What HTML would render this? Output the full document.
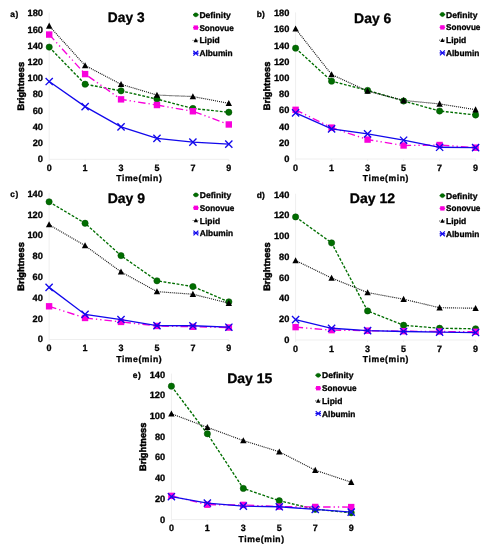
<!DOCTYPE html>
<html><head><meta charset="utf-8"><title>Brightness over time</title>
<style>
html,body{margin:0;padding:0;background:#fff;}
body{width:491px;height:550px;overflow:hidden;}
svg{display:block;will-change:transform;}
text{font-family:"Liberation Sans", sans-serif;font-weight:bold;fill:#000;stroke:#000;stroke-width:0.3px;stroke-linejoin:round;text-rendering:geometricPrecision;}
</style></head>
<body>
<svg width="491" height="550" viewBox="0 0 491 550">
<rect width="491" height="550" fill="#fff"/>
<path d="M49.20 12.50V159.30H228.80" stroke="#efefef" stroke-width="1" fill="none"/>
<path d="M49.20 159.30v2M85.12 159.30v2M121.04 159.30v2M156.96 159.30v2M192.88 159.30v2M228.80 159.30v2" stroke="#efefef" stroke-width="1"/>
<text x="43.00" y="162.20" font-size="9.2" text-anchor="end" textLength="5.2" lengthAdjust="spacingAndGlyphs">0</text>
<text x="43.00" y="146.00" font-size="9.2" text-anchor="end" textLength="10.3" lengthAdjust="spacingAndGlyphs">20</text>
<text x="43.00" y="129.80" font-size="9.2" text-anchor="end" textLength="10.3" lengthAdjust="spacingAndGlyphs">40</text>
<text x="43.00" y="113.60" font-size="9.2" text-anchor="end" textLength="10.3" lengthAdjust="spacingAndGlyphs">60</text>
<text x="43.00" y="97.40" font-size="9.2" text-anchor="end" textLength="10.3" lengthAdjust="spacingAndGlyphs">80</text>
<text x="43.00" y="81.20" font-size="9.2" text-anchor="end" textLength="15.5" lengthAdjust="spacingAndGlyphs">100</text>
<text x="43.00" y="65.00" font-size="9.2" text-anchor="end" textLength="15.5" lengthAdjust="spacingAndGlyphs">120</text>
<text x="43.00" y="48.80" font-size="9.2" text-anchor="end" textLength="15.5" lengthAdjust="spacingAndGlyphs">140</text>
<text x="43.00" y="32.60" font-size="9.2" text-anchor="end" textLength="15.5" lengthAdjust="spacingAndGlyphs">160</text>
<text x="43.00" y="16.40" font-size="9.2" text-anchor="end" textLength="15.5" lengthAdjust="spacingAndGlyphs">180</text>
<text x="49.20" y="170.80" font-size="9.2" text-anchor="middle" textLength="5.0" lengthAdjust="spacingAndGlyphs">0</text>
<text x="85.12" y="170.80" font-size="9.2" text-anchor="middle" textLength="5.0" lengthAdjust="spacingAndGlyphs">1</text>
<text x="121.04" y="170.80" font-size="9.2" text-anchor="middle" textLength="5.0" lengthAdjust="spacingAndGlyphs">3</text>
<text x="156.96" y="170.80" font-size="9.2" text-anchor="middle" textLength="5.0" lengthAdjust="spacingAndGlyphs">5</text>
<text x="192.88" y="170.80" font-size="9.2" text-anchor="middle" textLength="5.0" lengthAdjust="spacingAndGlyphs">7</text>
<text x="228.80" y="170.80" font-size="9.2" text-anchor="middle" textLength="5.0" lengthAdjust="spacingAndGlyphs">9</text>
<text x="139.00" y="181.30" font-size="8.6" text-anchor="middle" textLength="45.5" lengthAdjust="spacing">Time(min)</text>
<text transform="translate(23.50 86.20) rotate(-90)" font-size="9.3" style="stroke-width:0.5px" text-anchor="middle" textLength="48.5" lengthAdjust="spacingAndGlyphs">Brightness</text>
<text x="10.30" y="16.90" font-size="8.4" textLength="8.0" lengthAdjust="spacing">a)</text>
<text x="126.20" y="22.00" font-size="13.8" text-anchor="middle" textLength="36.7" lengthAdjust="spacingAndGlyphs">Day 3</text>
<polyline points="49.20,47.12 85.12,84.21 121.04,90.86 156.96,99.12 192.88,108.51 228.80,112.24" fill="none" stroke="#006e00" stroke-width="1.35" stroke-dasharray="2.8 1.6"/>
<circle cx="49.20" cy="47.12" r="3.15" fill="#006e00" stroke="#004a00" stroke-width="0.50"/>
<circle cx="85.12" cy="84.21" r="3.15" fill="#006e00" stroke="#004a00" stroke-width="0.50"/>
<circle cx="121.04" cy="90.86" r="3.15" fill="#006e00" stroke="#004a00" stroke-width="0.50"/>
<circle cx="156.96" cy="99.12" r="3.15" fill="#006e00" stroke="#004a00" stroke-width="0.50"/>
<circle cx="192.88" cy="108.51" r="3.15" fill="#006e00" stroke="#004a00" stroke-width="0.50"/>
<circle cx="228.80" cy="112.24" r="3.15" fill="#006e00" stroke="#004a00" stroke-width="0.50"/>
<polyline points="49.20,34.56 85.12,74.09 121.04,99.36 156.96,105.03 192.88,111.27 228.80,124.47" fill="none" stroke="#f800dc" stroke-width="1.35" stroke-dasharray="7.5 3 1.3 3 1.3 3"/>
<rect x="46.00" y="31.36" width="6.40" height="6.40" fill="#f800dc"/>
<rect x="81.92" y="70.89" width="6.40" height="6.40" fill="#f800dc"/>
<rect x="117.84" y="96.16" width="6.40" height="6.40" fill="#f800dc"/>
<rect x="153.76" y="101.83" width="6.40" height="6.40" fill="#f800dc"/>
<rect x="189.68" y="108.07" width="6.40" height="6.40" fill="#f800dc"/>
<rect x="225.60" y="121.27" width="6.40" height="6.40" fill="#f800dc"/>
<polyline points="49.20,25.97 85.12,65.50 121.04,84.29 156.96,95.07 192.88,96.53 228.80,103.33" fill="none" stroke="#111" stroke-width="1.15" stroke-dasharray="1 1"/>
<path d="M49.20 22.62L52.40 28.72L46.00 28.72Z" fill="#000"/>
<path d="M85.12 62.15L88.32 68.25L81.92 68.25Z" fill="#000"/>
<path d="M121.04 80.94L124.24 87.04L117.84 87.04Z" fill="#000"/>
<path d="M156.96 91.71L160.16 97.81L153.76 97.81Z" fill="#000"/>
<path d="M192.88 93.17L196.08 99.27L189.68 99.27Z" fill="#000"/>
<path d="M228.80 99.97L232.00 106.07L225.60 106.07Z" fill="#000"/>
<polyline points="49.20,81.54 85.12,106.65 121.04,126.90 156.96,138.40 192.88,142.13 228.80,144.07" fill="none" stroke="#1208ec" stroke-width="1.3"/>
<path d="M45.60 77.94L52.80 85.14M52.80 77.94L45.60 85.14" stroke="#1208ec" stroke-width="1.35" fill="none"/>
<path d="M81.52 103.05L88.72 110.25M88.72 103.05L81.52 110.25" stroke="#1208ec" stroke-width="1.35" fill="none"/>
<path d="M117.44 123.30L124.64 130.50M124.64 123.30L117.44 130.50" stroke="#1208ec" stroke-width="1.35" fill="none"/>
<path d="M153.36 134.80L160.56 142.00M160.56 134.80L153.36 142.00" stroke="#1208ec" stroke-width="1.35" fill="none"/>
<path d="M189.28 138.53L196.48 145.73M196.48 138.53L189.28 145.73" stroke="#1208ec" stroke-width="1.35" fill="none"/>
<path d="M225.20 140.47L232.40 147.67M232.40 140.47L225.20 147.67" stroke="#1208ec" stroke-width="1.35" fill="none"/>
<path d="M193.00 14.80H198.60" stroke="#006e00" stroke-width="1.35"/>
<circle cx="195.80" cy="14.80" r="2.14" fill="#006e00" stroke="#004a00" stroke-width="0.34"/>
<text x="199.40" y="17.80" font-size="8.4" textLength="31.4" lengthAdjust="spacingAndGlyphs">Definity</text>
<path d="M193.00 27.60H198.60" stroke="#f800dc" stroke-width="1.35"/>
<rect x="193.62" y="25.42" width="4.35" height="4.35" fill="#f800dc"/>
<text x="199.40" y="30.60" font-size="8.4" textLength="34.4" lengthAdjust="spacingAndGlyphs">Sonovue</text>
<path d="M192.60 40.40H198.40" stroke="#222" stroke-width="0.9" stroke-dasharray="0.8 0.8"/>
<path d="M195.80 38.12L197.98 42.27L193.62 42.27Z" fill="#000"/>
<text x="199.40" y="43.40" font-size="8.4" textLength="20.3" lengthAdjust="spacingAndGlyphs">Lipid</text>
<path d="M193.00 53.20H198.60" stroke="#1208ec" stroke-width="1.3"/>
<path d="M193.35 50.75L198.25 55.65M198.25 50.75L193.35 55.65" stroke="#1208ec" stroke-width="1.20" fill="none"/>
<text x="199.40" y="56.20" font-size="8.4" textLength="33.3" lengthAdjust="spacingAndGlyphs">Albumin</text>
<path d="M295.60 12.40V159.00H475.60" stroke="#efefef" stroke-width="1" fill="none"/>
<path d="M295.60 159.00v2M331.60 159.00v2M367.60 159.00v2M403.60 159.00v2M439.60 159.00v2M475.60 159.00v2" stroke="#efefef" stroke-width="1"/>
<text x="289.40" y="161.90" font-size="9.2" text-anchor="end" textLength="5.2" lengthAdjust="spacingAndGlyphs">0</text>
<text x="289.40" y="145.72" font-size="9.2" text-anchor="end" textLength="10.3" lengthAdjust="spacingAndGlyphs">20</text>
<text x="289.40" y="129.54" font-size="9.2" text-anchor="end" textLength="10.3" lengthAdjust="spacingAndGlyphs">40</text>
<text x="289.40" y="113.37" font-size="9.2" text-anchor="end" textLength="10.3" lengthAdjust="spacingAndGlyphs">60</text>
<text x="289.40" y="97.19" font-size="9.2" text-anchor="end" textLength="10.3" lengthAdjust="spacingAndGlyphs">80</text>
<text x="289.40" y="81.01" font-size="9.2" text-anchor="end" textLength="15.5" lengthAdjust="spacingAndGlyphs">100</text>
<text x="289.40" y="64.83" font-size="9.2" text-anchor="end" textLength="15.5" lengthAdjust="spacingAndGlyphs">120</text>
<text x="289.40" y="48.66" font-size="9.2" text-anchor="end" textLength="15.5" lengthAdjust="spacingAndGlyphs">140</text>
<text x="289.40" y="32.48" font-size="9.2" text-anchor="end" textLength="15.5" lengthAdjust="spacingAndGlyphs">160</text>
<text x="289.40" y="16.30" font-size="9.2" text-anchor="end" textLength="15.5" lengthAdjust="spacingAndGlyphs">180</text>
<text x="295.60" y="170.50" font-size="9.2" text-anchor="middle" textLength="5.0" lengthAdjust="spacingAndGlyphs">0</text>
<text x="331.60" y="170.50" font-size="9.2" text-anchor="middle" textLength="5.0" lengthAdjust="spacingAndGlyphs">1</text>
<text x="367.60" y="170.50" font-size="9.2" text-anchor="middle" textLength="5.0" lengthAdjust="spacingAndGlyphs">3</text>
<text x="403.60" y="170.50" font-size="9.2" text-anchor="middle" textLength="5.0" lengthAdjust="spacingAndGlyphs">5</text>
<text x="439.60" y="170.50" font-size="9.2" text-anchor="middle" textLength="5.0" lengthAdjust="spacingAndGlyphs">7</text>
<text x="475.60" y="170.50" font-size="9.2" text-anchor="middle" textLength="5.0" lengthAdjust="spacingAndGlyphs">9</text>
<text x="385.60" y="181.00" font-size="8.6" text-anchor="middle" textLength="45.5" lengthAdjust="spacing">Time(min)</text>
<text transform="translate(270.00 85.90) rotate(-90)" font-size="9.3" style="stroke-width:0.5px" text-anchor="middle" textLength="48.5" lengthAdjust="spacingAndGlyphs">Brightness</text>
<text x="256.80" y="16.80" font-size="8.4" textLength="8.0" lengthAdjust="spacing">b)</text>
<text x="372.70" y="22.90" font-size="13.8" text-anchor="middle" textLength="37.2" lengthAdjust="spacingAndGlyphs">Day 6</text>
<polyline points="295.60,48.18 331.60,81.18 367.60,90.41 403.60,101.00 439.60,111.03 475.60,115.00" fill="none" stroke="#006e00" stroke-width="1.35" stroke-dasharray="2.8 1.6"/>
<circle cx="295.60" cy="48.18" r="3.15" fill="#006e00" stroke="#004a00" stroke-width="0.50"/>
<circle cx="331.60" cy="81.18" r="3.15" fill="#006e00" stroke="#004a00" stroke-width="0.50"/>
<circle cx="367.60" cy="90.41" r="3.15" fill="#006e00" stroke="#004a00" stroke-width="0.50"/>
<circle cx="403.60" cy="101.00" r="3.15" fill="#006e00" stroke="#004a00" stroke-width="0.50"/>
<circle cx="439.60" cy="111.03" r="3.15" fill="#006e00" stroke="#004a00" stroke-width="0.50"/>
<circle cx="475.60" cy="115.00" r="3.15" fill="#006e00" stroke="#004a00" stroke-width="0.50"/>
<polyline points="295.60,109.82 331.60,127.62 367.60,139.59 403.60,145.49 439.60,145.01 475.60,147.68" fill="none" stroke="#f800dc" stroke-width="1.35" stroke-dasharray="7.5 3 1.3 3 1.3 3"/>
<rect x="292.40" y="106.62" width="6.40" height="6.40" fill="#f800dc"/>
<rect x="328.40" y="124.42" width="6.40" height="6.40" fill="#f800dc"/>
<rect x="364.40" y="136.39" width="6.40" height="6.40" fill="#f800dc"/>
<rect x="400.40" y="142.29" width="6.40" height="6.40" fill="#f800dc"/>
<rect x="436.40" y="141.81" width="6.40" height="6.40" fill="#f800dc"/>
<rect x="472.40" y="144.48" width="6.40" height="6.40" fill="#f800dc"/>
<polyline points="295.60,28.77 331.60,74.55 367.60,91.05 403.60,100.44 439.60,103.91 475.60,109.66" fill="none" stroke="#111" stroke-width="1.15" stroke-dasharray="1 1"/>
<path d="M295.60 25.41L298.80 31.51L292.40 31.51Z" fill="#000"/>
<path d="M331.60 71.20L334.80 77.30L328.40 77.30Z" fill="#000"/>
<path d="M367.60 87.70L370.80 93.80L364.40 93.80Z" fill="#000"/>
<path d="M403.60 97.08L406.80 103.18L400.40 103.18Z" fill="#000"/>
<path d="M439.60 100.56L442.80 106.66L436.40 106.66Z" fill="#000"/>
<path d="M475.60 106.30L478.80 112.40L472.40 112.40Z" fill="#000"/>
<polyline points="295.60,112.89 331.60,128.91 367.60,133.92 403.60,140.23 439.60,147.27 475.60,147.68" fill="none" stroke="#1208ec" stroke-width="1.3"/>
<path d="M292.00 109.29L299.20 116.49M299.20 109.29L292.00 116.49" stroke="#1208ec" stroke-width="1.35" fill="none"/>
<path d="M328.00 125.31L335.20 132.51M335.20 125.31L328.00 132.51" stroke="#1208ec" stroke-width="1.35" fill="none"/>
<path d="M364.00 130.32L371.20 137.52M371.20 130.32L364.00 137.52" stroke="#1208ec" stroke-width="1.35" fill="none"/>
<path d="M400.00 136.63L407.20 143.83M407.20 136.63L400.00 143.83" stroke="#1208ec" stroke-width="1.35" fill="none"/>
<path d="M436.00 143.67L443.20 150.87M443.20 143.67L436.00 150.87" stroke="#1208ec" stroke-width="1.35" fill="none"/>
<path d="M472.00 144.08L479.20 151.28M479.20 144.08L472.00 151.28" stroke="#1208ec" stroke-width="1.35" fill="none"/>
<path d="M439.60 14.50H445.20" stroke="#006e00" stroke-width="1.35"/>
<circle cx="442.40" cy="14.50" r="2.14" fill="#006e00" stroke="#004a00" stroke-width="0.34"/>
<text x="446.00" y="17.50" font-size="8.4" textLength="31.4" lengthAdjust="spacingAndGlyphs">Definity</text>
<path d="M439.60 27.40H445.20" stroke="#f800dc" stroke-width="1.35"/>
<rect x="440.22" y="25.22" width="4.35" height="4.35" fill="#f800dc"/>
<text x="446.00" y="30.40" font-size="8.4" textLength="34.4" lengthAdjust="spacingAndGlyphs">Sonovue</text>
<path d="M439.20 40.20H445.00" stroke="#222" stroke-width="0.9" stroke-dasharray="0.8 0.8"/>
<path d="M442.40 37.92L444.58 42.07L440.22 42.07Z" fill="#000"/>
<text x="446.00" y="43.20" font-size="8.4" textLength="20.3" lengthAdjust="spacingAndGlyphs">Lipid</text>
<path d="M439.60 52.90H445.20" stroke="#1208ec" stroke-width="1.3"/>
<path d="M439.95 50.45L444.85 55.35M444.85 50.45L439.95 55.35" stroke="#1208ec" stroke-width="1.20" fill="none"/>
<text x="446.00" y="55.90" font-size="8.4" textLength="33.3" lengthAdjust="spacingAndGlyphs">Albumin</text>
<path d="M49.10 192.80V339.50H228.85" stroke="#efefef" stroke-width="1" fill="none"/>
<path d="M49.10 339.50v2M85.05 339.50v2M121.00 339.50v2M156.95 339.50v2M192.90 339.50v2M228.85 339.50v2" stroke="#efefef" stroke-width="1"/>
<text x="42.90" y="342.40" font-size="9.2" text-anchor="end" textLength="5.2" lengthAdjust="spacingAndGlyphs">0</text>
<text x="42.90" y="321.59" font-size="9.2" text-anchor="end" textLength="10.3" lengthAdjust="spacingAndGlyphs">20</text>
<text x="42.90" y="300.77" font-size="9.2" text-anchor="end" textLength="10.3" lengthAdjust="spacingAndGlyphs">40</text>
<text x="42.90" y="279.96" font-size="9.2" text-anchor="end" textLength="10.3" lengthAdjust="spacingAndGlyphs">60</text>
<text x="42.90" y="259.14" font-size="9.2" text-anchor="end" textLength="10.3" lengthAdjust="spacingAndGlyphs">80</text>
<text x="42.90" y="238.33" font-size="9.2" text-anchor="end" textLength="15.5" lengthAdjust="spacingAndGlyphs">100</text>
<text x="42.90" y="217.51" font-size="9.2" text-anchor="end" textLength="15.5" lengthAdjust="spacingAndGlyphs">120</text>
<text x="42.90" y="196.70" font-size="9.2" text-anchor="end" textLength="15.5" lengthAdjust="spacingAndGlyphs">140</text>
<text x="49.10" y="351.00" font-size="9.2" text-anchor="middle" textLength="5.0" lengthAdjust="spacingAndGlyphs">0</text>
<text x="85.05" y="351.00" font-size="9.2" text-anchor="middle" textLength="5.0" lengthAdjust="spacingAndGlyphs">1</text>
<text x="121.00" y="351.00" font-size="9.2" text-anchor="middle" textLength="5.0" lengthAdjust="spacingAndGlyphs">3</text>
<text x="156.95" y="351.00" font-size="9.2" text-anchor="middle" textLength="5.0" lengthAdjust="spacingAndGlyphs">5</text>
<text x="192.90" y="351.00" font-size="9.2" text-anchor="middle" textLength="5.0" lengthAdjust="spacingAndGlyphs">7</text>
<text x="228.85" y="351.00" font-size="9.2" text-anchor="middle" textLength="5.0" lengthAdjust="spacingAndGlyphs">9</text>
<text x="138.97" y="361.50" font-size="8.6" text-anchor="middle" textLength="45.5" lengthAdjust="spacing">Time(min)</text>
<text transform="translate(23.50 266.40) rotate(-90)" font-size="9.3" style="stroke-width:0.5px" text-anchor="middle" textLength="48.5" lengthAdjust="spacingAndGlyphs">Brightness</text>
<text x="10.30" y="197.20" font-size="8.4" textLength="8.0" lengthAdjust="spacing">c)</text>
<text x="126.40" y="202.60" font-size="13.8" text-anchor="middle" textLength="37.3" lengthAdjust="spacingAndGlyphs">Day 9</text>
<polyline points="49.10,201.81 85.05,223.25 121.00,255.62 156.95,280.80 192.90,286.53 228.85,301.83" fill="none" stroke="#006e00" stroke-width="1.35" stroke-dasharray="2.8 1.6"/>
<circle cx="49.10" cy="201.81" r="3.15" fill="#006e00" stroke="#004a00" stroke-width="0.50"/>
<circle cx="85.05" cy="223.25" r="3.15" fill="#006e00" stroke="#004a00" stroke-width="0.50"/>
<circle cx="121.00" cy="255.62" r="3.15" fill="#006e00" stroke="#004a00" stroke-width="0.50"/>
<circle cx="156.95" cy="280.80" r="3.15" fill="#006e00" stroke="#004a00" stroke-width="0.50"/>
<circle cx="192.90" cy="286.53" r="3.15" fill="#006e00" stroke="#004a00" stroke-width="0.50"/>
<circle cx="228.85" cy="301.83" r="3.15" fill="#006e00" stroke="#004a00" stroke-width="0.50"/>
<polyline points="49.10,306.30 85.05,317.96 121.00,321.91 156.95,325.97 192.90,326.80 228.85,327.53" fill="none" stroke="#f800dc" stroke-width="1.35" stroke-dasharray="7.5 3 1.3 3 1.3 3"/>
<rect x="45.90" y="303.10" width="6.40" height="6.40" fill="#f800dc"/>
<rect x="81.85" y="314.76" width="6.40" height="6.40" fill="#f800dc"/>
<rect x="117.80" y="318.71" width="6.40" height="6.40" fill="#f800dc"/>
<rect x="153.75" y="322.77" width="6.40" height="6.40" fill="#f800dc"/>
<rect x="189.70" y="323.60" width="6.40" height="6.40" fill="#f800dc"/>
<rect x="225.65" y="324.33" width="6.40" height="6.40" fill="#f800dc"/>
<polyline points="49.10,224.61 85.05,245.63 121.00,271.85 156.95,291.63 192.90,294.23 228.85,303.18" fill="none" stroke="#111" stroke-width="1.15" stroke-dasharray="1 1"/>
<path d="M49.10 221.25L52.30 227.35L45.90 227.35Z" fill="#000"/>
<path d="M85.05 242.27L88.25 248.37L81.85 248.37Z" fill="#000"/>
<path d="M121.00 268.50L124.20 274.60L117.80 274.60Z" fill="#000"/>
<path d="M156.95 288.27L160.15 294.37L153.75 294.37Z" fill="#000"/>
<path d="M192.90 290.87L196.10 296.97L189.70 296.97Z" fill="#000"/>
<path d="M228.85 299.82L232.05 305.92L225.65 305.92Z" fill="#000"/>
<polyline points="49.10,287.36 85.05,314.42 121.00,319.52 156.95,325.55 192.90,325.76 228.85,327.22" fill="none" stroke="#1208ec" stroke-width="1.3"/>
<path d="M45.50 283.76L52.70 290.96M52.70 283.76L45.50 290.96" stroke="#1208ec" stroke-width="1.35" fill="none"/>
<path d="M81.45 310.82L88.65 318.02M88.65 310.82L81.45 318.02" stroke="#1208ec" stroke-width="1.35" fill="none"/>
<path d="M117.40 315.92L124.60 323.12M124.60 315.92L117.40 323.12" stroke="#1208ec" stroke-width="1.35" fill="none"/>
<path d="M153.35 321.95L160.55 329.15M160.55 321.95L153.35 329.15" stroke="#1208ec" stroke-width="1.35" fill="none"/>
<path d="M189.30 322.16L196.50 329.36M196.50 322.16L189.30 329.36" stroke="#1208ec" stroke-width="1.35" fill="none"/>
<path d="M225.25 323.62L232.45 330.82M232.45 323.62L225.25 330.82" stroke="#1208ec" stroke-width="1.35" fill="none"/>
<path d="M193.10 194.90H198.70" stroke="#006e00" stroke-width="1.35"/>
<circle cx="195.90" cy="194.90" r="2.14" fill="#006e00" stroke="#004a00" stroke-width="0.34"/>
<text x="199.80" y="197.90" font-size="8.4" textLength="31.4" lengthAdjust="spacingAndGlyphs">Definity</text>
<path d="M193.10 207.80H198.70" stroke="#f800dc" stroke-width="1.35"/>
<rect x="193.72" y="205.62" width="4.35" height="4.35" fill="#f800dc"/>
<text x="199.80" y="210.80" font-size="8.4" textLength="34.4" lengthAdjust="spacingAndGlyphs">Sonovue</text>
<path d="M192.70 220.50H198.50" stroke="#222" stroke-width="0.9" stroke-dasharray="0.8 0.8"/>
<path d="M195.90 218.22L198.08 222.37L193.72 222.37Z" fill="#000"/>
<text x="199.80" y="223.50" font-size="8.4" textLength="20.3" lengthAdjust="spacingAndGlyphs">Lipid</text>
<path d="M193.10 233.00H198.70" stroke="#1208ec" stroke-width="1.3"/>
<path d="M193.45 230.55L198.35 235.45M198.35 230.55L193.45 235.45" stroke="#1208ec" stroke-width="1.20" fill="none"/>
<text x="199.80" y="236.00" font-size="8.4" textLength="33.3" lengthAdjust="spacingAndGlyphs">Albumin</text>
<path d="M295.60 193.70V340.00H475.60" stroke="#efefef" stroke-width="1" fill="none"/>
<path d="M295.60 340.00v2M331.60 340.00v2M367.60 340.00v2M403.60 340.00v2M439.60 340.00v2M475.60 340.00v2" stroke="#efefef" stroke-width="1"/>
<text x="289.40" y="342.90" font-size="9.2" text-anchor="end" textLength="5.2" lengthAdjust="spacingAndGlyphs">0</text>
<text x="289.40" y="322.14" font-size="9.2" text-anchor="end" textLength="10.3" lengthAdjust="spacingAndGlyphs">20</text>
<text x="289.40" y="301.39" font-size="9.2" text-anchor="end" textLength="10.3" lengthAdjust="spacingAndGlyphs">40</text>
<text x="289.40" y="280.63" font-size="9.2" text-anchor="end" textLength="10.3" lengthAdjust="spacingAndGlyphs">60</text>
<text x="289.40" y="259.87" font-size="9.2" text-anchor="end" textLength="10.3" lengthAdjust="spacingAndGlyphs">80</text>
<text x="289.40" y="239.11" font-size="9.2" text-anchor="end" textLength="15.5" lengthAdjust="spacingAndGlyphs">100</text>
<text x="289.40" y="218.36" font-size="9.2" text-anchor="end" textLength="15.5" lengthAdjust="spacingAndGlyphs">120</text>
<text x="289.40" y="197.60" font-size="9.2" text-anchor="end" textLength="15.5" lengthAdjust="spacingAndGlyphs">140</text>
<text x="295.60" y="351.50" font-size="9.2" text-anchor="middle" textLength="5.0" lengthAdjust="spacingAndGlyphs">0</text>
<text x="331.60" y="351.50" font-size="9.2" text-anchor="middle" textLength="5.0" lengthAdjust="spacingAndGlyphs">1</text>
<text x="367.60" y="351.50" font-size="9.2" text-anchor="middle" textLength="5.0" lengthAdjust="spacingAndGlyphs">3</text>
<text x="403.60" y="351.50" font-size="9.2" text-anchor="middle" textLength="5.0" lengthAdjust="spacingAndGlyphs">5</text>
<text x="439.60" y="351.50" font-size="9.2" text-anchor="middle" textLength="5.0" lengthAdjust="spacingAndGlyphs">7</text>
<text x="475.60" y="351.50" font-size="9.2" text-anchor="middle" textLength="5.0" lengthAdjust="spacingAndGlyphs">9</text>
<text x="385.60" y="362.00" font-size="8.6" text-anchor="middle" textLength="45.5" lengthAdjust="spacing">Time(min)</text>
<text transform="translate(270.00 266.60) rotate(-90)" font-size="9.3" style="stroke-width:0.5px" text-anchor="middle" textLength="48.5" lengthAdjust="spacingAndGlyphs">Brightness</text>
<text x="256.80" y="198.10" font-size="8.4" textLength="8.0" lengthAdjust="spacing">d)</text>
<text x="372.40" y="203.00" font-size="13.8" text-anchor="middle" textLength="45.2" lengthAdjust="spacingAndGlyphs">Day 12</text>
<polyline points="295.60,216.91 331.60,242.86 367.60,310.94 403.60,325.26 439.60,328.27 475.60,328.79" fill="none" stroke="#006e00" stroke-width="1.35" stroke-dasharray="2.8 1.6"/>
<circle cx="295.60" cy="216.91" r="3.15" fill="#006e00" stroke="#004a00" stroke-width="0.50"/>
<circle cx="331.60" cy="242.86" r="3.15" fill="#006e00" stroke="#004a00" stroke-width="0.50"/>
<circle cx="367.60" cy="310.94" r="3.15" fill="#006e00" stroke="#004a00" stroke-width="0.50"/>
<circle cx="403.60" cy="325.26" r="3.15" fill="#006e00" stroke="#004a00" stroke-width="0.50"/>
<circle cx="439.60" cy="328.27" r="3.15" fill="#006e00" stroke="#004a00" stroke-width="0.50"/>
<circle cx="475.60" cy="328.79" r="3.15" fill="#006e00" stroke="#004a00" stroke-width="0.50"/>
<polyline points="295.60,327.13 331.60,330.14 367.60,330.66 403.60,331.18 439.60,331.49 475.60,331.80" fill="none" stroke="#f800dc" stroke-width="1.35" stroke-dasharray="7.5 3 1.3 3 1.3 3"/>
<rect x="292.40" y="323.93" width="6.40" height="6.40" fill="#f800dc"/>
<rect x="328.40" y="326.94" width="6.40" height="6.40" fill="#f800dc"/>
<rect x="364.40" y="327.46" width="6.40" height="6.40" fill="#f800dc"/>
<rect x="400.40" y="327.98" width="6.40" height="6.40" fill="#f800dc"/>
<rect x="436.40" y="328.29" width="6.40" height="6.40" fill="#f800dc"/>
<rect x="472.40" y="328.60" width="6.40" height="6.40" fill="#f800dc"/>
<polyline points="295.60,260.50 331.60,278.04 367.60,292.57 403.60,299.21 439.60,307.72 475.60,308.24" fill="none" stroke="#111" stroke-width="1.15" stroke-dasharray="1 1"/>
<path d="M295.60 257.15L298.80 263.25L292.40 263.25Z" fill="#000"/>
<path d="M331.60 274.68L334.80 280.78L328.40 280.78Z" fill="#000"/>
<path d="M367.60 289.21L370.80 295.31L364.40 295.31Z" fill="#000"/>
<path d="M403.60 295.86L406.80 301.96L400.40 301.96Z" fill="#000"/>
<path d="M439.60 304.37L442.80 310.47L436.40 310.47Z" fill="#000"/>
<path d="M475.60 304.89L478.80 310.99L472.40 310.99Z" fill="#000"/>
<polyline points="295.60,319.55 331.60,328.27 367.60,330.56 403.60,331.49 439.60,332.11 475.60,332.53" fill="none" stroke="#1208ec" stroke-width="1.3"/>
<path d="M292.00 315.95L299.20 323.15M299.20 315.95L292.00 323.15" stroke="#1208ec" stroke-width="1.35" fill="none"/>
<path d="M328.00 324.67L335.20 331.87M335.20 324.67L328.00 331.87" stroke="#1208ec" stroke-width="1.35" fill="none"/>
<path d="M364.00 326.96L371.20 334.16M371.20 326.96L364.00 334.16" stroke="#1208ec" stroke-width="1.35" fill="none"/>
<path d="M400.00 327.89L407.20 335.09M407.20 327.89L400.00 335.09" stroke="#1208ec" stroke-width="1.35" fill="none"/>
<path d="M436.00 328.51L443.20 335.71M443.20 328.51L436.00 335.71" stroke="#1208ec" stroke-width="1.35" fill="none"/>
<path d="M472.00 328.93L479.20 336.13M479.20 328.93L472.00 336.13" stroke="#1208ec" stroke-width="1.35" fill="none"/>
<path d="M439.60 195.60H445.20" stroke="#006e00" stroke-width="1.35"/>
<circle cx="442.40" cy="195.60" r="2.14" fill="#006e00" stroke="#004a00" stroke-width="0.34"/>
<text x="446.00" y="198.60" font-size="8.4" textLength="31.4" lengthAdjust="spacingAndGlyphs">Definity</text>
<path d="M439.60 208.40H445.20" stroke="#f800dc" stroke-width="1.35"/>
<rect x="440.22" y="206.22" width="4.35" height="4.35" fill="#f800dc"/>
<text x="446.00" y="211.40" font-size="8.4" textLength="34.4" lengthAdjust="spacingAndGlyphs">Sonovue</text>
<path d="M439.20 221.00H445.00" stroke="#222" stroke-width="0.9" stroke-dasharray="0.8 0.8"/>
<path d="M442.40 218.72L444.58 222.87L440.22 222.87Z" fill="#000"/>
<text x="446.00" y="224.00" font-size="8.4" textLength="20.3" lengthAdjust="spacingAndGlyphs">Lipid</text>
<path d="M439.60 233.80H445.20" stroke="#1208ec" stroke-width="1.3"/>
<path d="M439.95 231.35L444.85 236.25M444.85 231.35L439.95 236.25" stroke="#1208ec" stroke-width="1.20" fill="none"/>
<text x="446.00" y="236.80" font-size="8.4" textLength="33.3" lengthAdjust="spacingAndGlyphs">Albumin</text>
<path d="M171.40 373.60V519.60H351.20" stroke="#efefef" stroke-width="1" fill="none"/>
<path d="M171.40 519.60v2M207.36 519.60v2M243.32 519.60v2M279.28 519.60v2M315.24 519.60v2M351.20 519.60v2" stroke="#efefef" stroke-width="1"/>
<text x="165.20" y="522.50" font-size="9.2" text-anchor="end" textLength="5.2" lengthAdjust="spacingAndGlyphs">0</text>
<text x="165.20" y="501.79" font-size="9.2" text-anchor="end" textLength="10.3" lengthAdjust="spacingAndGlyphs">20</text>
<text x="165.20" y="481.07" font-size="9.2" text-anchor="end" textLength="10.3" lengthAdjust="spacingAndGlyphs">40</text>
<text x="165.20" y="460.36" font-size="9.2" text-anchor="end" textLength="10.3" lengthAdjust="spacingAndGlyphs">60</text>
<text x="165.20" y="439.64" font-size="9.2" text-anchor="end" textLength="10.3" lengthAdjust="spacingAndGlyphs">80</text>
<text x="165.20" y="418.93" font-size="9.2" text-anchor="end" textLength="15.5" lengthAdjust="spacingAndGlyphs">100</text>
<text x="165.20" y="398.21" font-size="9.2" text-anchor="end" textLength="15.5" lengthAdjust="spacingAndGlyphs">120</text>
<text x="165.20" y="377.50" font-size="9.2" text-anchor="end" textLength="15.5" lengthAdjust="spacingAndGlyphs">140</text>
<text x="171.40" y="531.10" font-size="9.2" text-anchor="middle" textLength="5.0" lengthAdjust="spacingAndGlyphs">0</text>
<text x="207.36" y="531.10" font-size="9.2" text-anchor="middle" textLength="5.0" lengthAdjust="spacingAndGlyphs">1</text>
<text x="243.32" y="531.10" font-size="9.2" text-anchor="middle" textLength="5.0" lengthAdjust="spacingAndGlyphs">3</text>
<text x="279.28" y="531.10" font-size="9.2" text-anchor="middle" textLength="5.0" lengthAdjust="spacingAndGlyphs">5</text>
<text x="315.24" y="531.10" font-size="9.2" text-anchor="middle" textLength="5.0" lengthAdjust="spacingAndGlyphs">7</text>
<text x="351.20" y="531.10" font-size="9.2" text-anchor="middle" textLength="5.0" lengthAdjust="spacingAndGlyphs">9</text>
<text x="261.30" y="541.60" font-size="8.6" text-anchor="middle" textLength="45.5" lengthAdjust="spacing">Time(min)</text>
<text transform="translate(146.30 446.80) rotate(-90)" font-size="9.3" style="stroke-width:0.5px" text-anchor="middle" textLength="48.5" lengthAdjust="spacingAndGlyphs">Brightness</text>
<text x="132.80" y="378.00" font-size="8.4" textLength="8.0" lengthAdjust="spacing">e)</text>
<text x="249.70" y="382.60" font-size="13.8" text-anchor="middle" textLength="45.0" lengthAdjust="spacingAndGlyphs">Day 15</text>
<polyline points="171.40,386.20 207.36,433.74 243.32,488.43 279.28,500.75 315.24,509.24 351.20,512.76" fill="none" stroke="#006e00" stroke-width="1.35" stroke-dasharray="2.8 1.6"/>
<circle cx="171.40" cy="386.20" r="3.15" fill="#006e00" stroke="#004a00" stroke-width="0.50"/>
<circle cx="207.36" cy="433.74" r="3.15" fill="#006e00" stroke="#004a00" stroke-width="0.50"/>
<circle cx="243.32" cy="488.43" r="3.15" fill="#006e00" stroke="#004a00" stroke-width="0.50"/>
<circle cx="279.28" cy="500.75" r="3.15" fill="#006e00" stroke="#004a00" stroke-width="0.50"/>
<circle cx="315.24" cy="509.24" r="3.15" fill="#006e00" stroke="#004a00" stroke-width="0.50"/>
<circle cx="351.20" cy="512.76" r="3.15" fill="#006e00" stroke="#004a00" stroke-width="0.50"/>
<polyline points="171.40,495.88 207.36,504.69 243.32,504.89 279.28,506.65 315.24,506.96 351.20,507.07" fill="none" stroke="#f800dc" stroke-width="1.35" stroke-dasharray="7.5 3 1.3 3 1.3 3"/>
<rect x="168.20" y="492.68" width="6.40" height="6.40" fill="#f800dc"/>
<rect x="204.16" y="501.49" width="6.40" height="6.40" fill="#f800dc"/>
<rect x="240.12" y="501.69" width="6.40" height="6.40" fill="#f800dc"/>
<rect x="276.08" y="503.45" width="6.40" height="6.40" fill="#f800dc"/>
<rect x="312.04" y="503.76" width="6.40" height="6.40" fill="#f800dc"/>
<rect x="348.00" y="503.87" width="6.40" height="6.40" fill="#f800dc"/>
<polyline points="171.40,413.75 207.36,427.32 243.32,440.58 279.28,451.76 315.24,470.20 351.20,482.21" fill="none" stroke="#111" stroke-width="1.15" stroke-dasharray="1 1"/>
<path d="M171.40 410.39L174.60 416.50L168.20 416.50Z" fill="#000"/>
<path d="M207.36 423.96L210.56 430.06L204.16 430.06Z" fill="#000"/>
<path d="M243.32 437.22L246.52 443.32L240.12 443.32Z" fill="#000"/>
<path d="M279.28 448.41L282.48 454.51L276.08 454.51Z" fill="#000"/>
<path d="M315.24 466.84L318.44 472.94L312.04 472.94Z" fill="#000"/>
<path d="M351.20 478.86L354.40 484.96L348.00 484.96Z" fill="#000"/>
<polyline points="171.40,496.71 207.36,503.03 243.32,506.14 279.28,506.76 315.24,509.45 351.20,512.14" fill="none" stroke="#1208ec" stroke-width="1.3"/>
<path d="M167.80 493.11L175.00 500.31M175.00 493.11L167.80 500.31" stroke="#1208ec" stroke-width="1.35" fill="none"/>
<path d="M203.76 499.43L210.96 506.63M210.96 499.43L203.76 506.63" stroke="#1208ec" stroke-width="1.35" fill="none"/>
<path d="M239.72 502.54L246.92 509.74M246.92 502.54L239.72 509.74" stroke="#1208ec" stroke-width="1.35" fill="none"/>
<path d="M275.68 503.16L282.88 510.36M282.88 503.16L275.68 510.36" stroke="#1208ec" stroke-width="1.35" fill="none"/>
<path d="M311.64 505.85L318.84 513.05M318.84 505.85L311.64 513.05" stroke="#1208ec" stroke-width="1.35" fill="none"/>
<path d="M347.60 508.54L354.80 515.74M354.80 508.54L347.60 515.74" stroke="#1208ec" stroke-width="1.35" fill="none"/>
<path d="M315.40 375.30H321.00" stroke="#006e00" stroke-width="1.35"/>
<circle cx="318.20" cy="375.30" r="2.14" fill="#006e00" stroke="#004a00" stroke-width="0.34"/>
<text x="322.10" y="378.30" font-size="8.4" textLength="31.4" lengthAdjust="spacingAndGlyphs">Definity</text>
<path d="M315.40 388.20H321.00" stroke="#f800dc" stroke-width="1.35"/>
<rect x="316.02" y="386.02" width="4.35" height="4.35" fill="#f800dc"/>
<text x="322.10" y="391.20" font-size="8.4" textLength="34.4" lengthAdjust="spacingAndGlyphs">Sonovue</text>
<path d="M315.00 400.90H320.80" stroke="#222" stroke-width="0.9" stroke-dasharray="0.8 0.8"/>
<path d="M318.20 398.62L320.38 402.77L316.02 402.77Z" fill="#000"/>
<text x="322.10" y="403.90" font-size="8.4" textLength="20.3" lengthAdjust="spacingAndGlyphs">Lipid</text>
<path d="M315.40 413.50H321.00" stroke="#1208ec" stroke-width="1.3"/>
<path d="M315.75 411.05L320.65 415.95M320.65 411.05L315.75 415.95" stroke="#1208ec" stroke-width="1.20" fill="none"/>
<text x="322.10" y="416.50" font-size="8.4" textLength="33.3" lengthAdjust="spacingAndGlyphs">Albumin</text>
</svg>
</body></html>
